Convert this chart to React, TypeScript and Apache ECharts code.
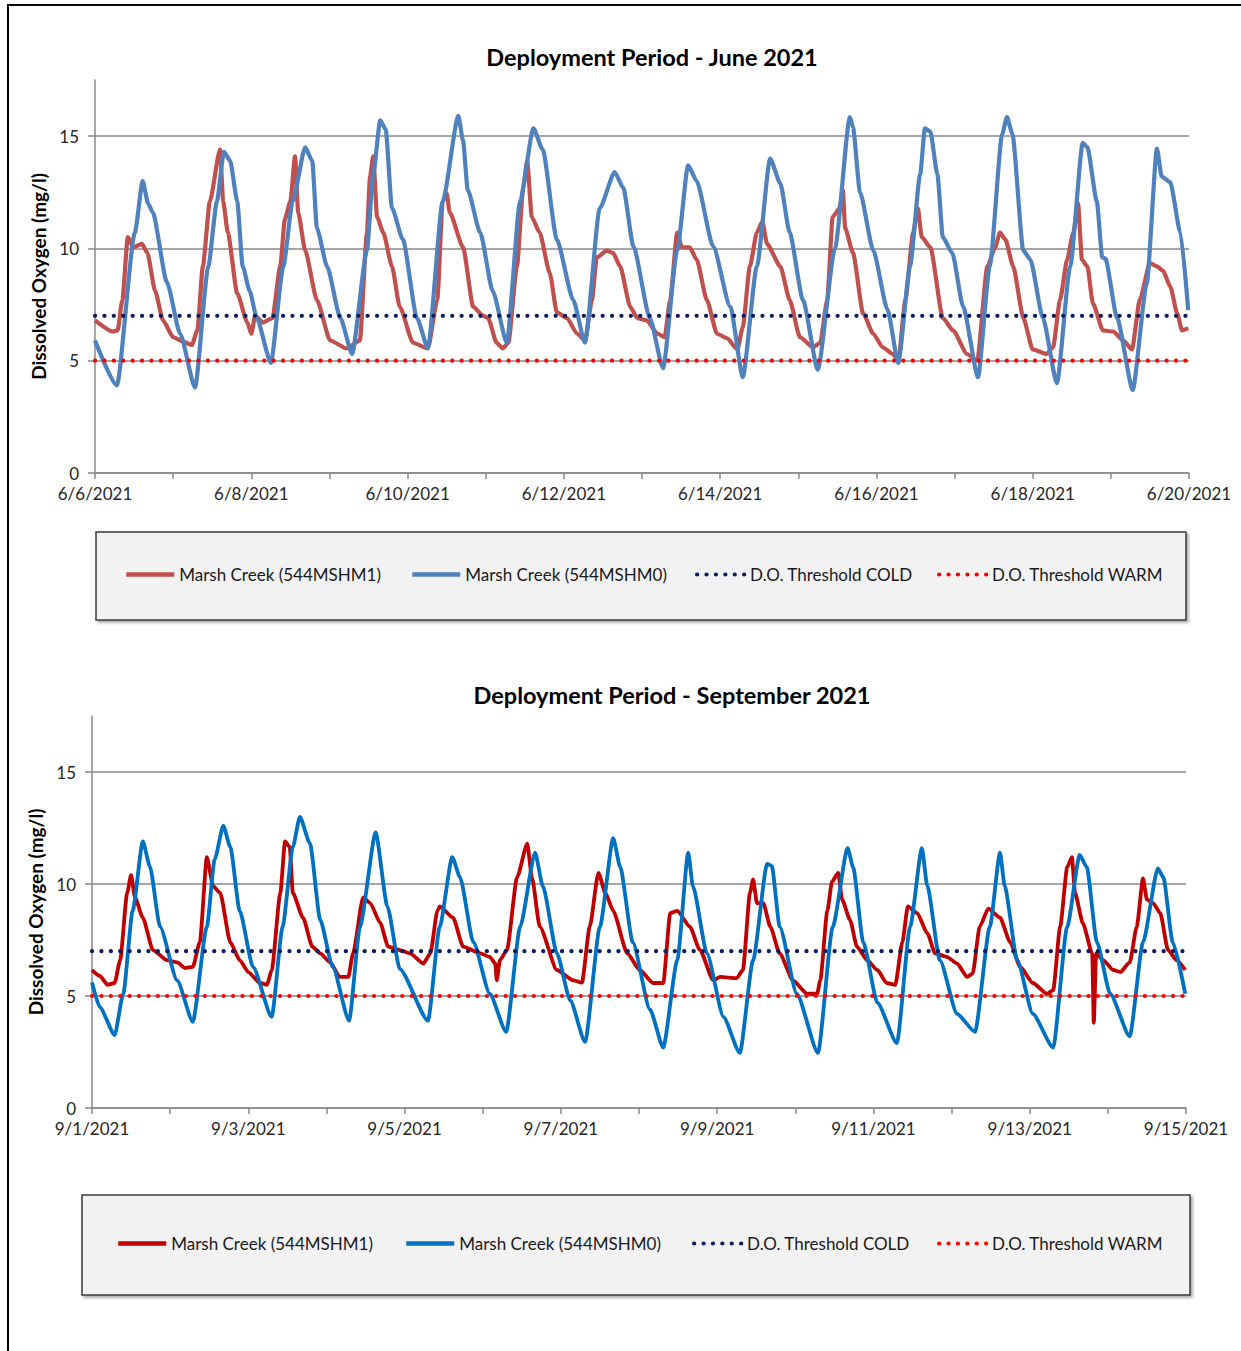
import React, { useEffect, useRef } from 'react';
import * as echarts from 'echarts';

const juneTicks = ['6/6/2021', '6/8/2021', '6/10/2021', '6/12/2021', '6/14/2021', '6/16/2021', '6/18/2021', '6/20/2021'];
const sepTicks = ['9/1/2021', '9/3/2021', '9/5/2021', '9/7/2021', '9/9/2021', '9/11/2021', '9/13/2021', '9/15/2021'];
const seriesNames = ['Marsh Creek (544MSHM1)', 'Marsh Creek (544MSHM0)', 'D.O. Threshold COLD', 'D.O. Threshold WARM'];
const coldThreshold = 7;
const warmThreshold = 5;

// [day offset from period start, dissolved oxygen mg/l]
const juneM1: [number, number][] = [
  [0.00, 6.8], [0.23, 6.3], [0.29, 6.35], [0.35, 7.7], [0.42, 10.5], [0.49, 10.05], [0.60, 10.2], [0.67, 9.8], [0.77, 8.1], [0.87, 6.8],
  [1.00, 6.05], [1.13, 5.85], [1.24, 5.7], [1.31, 6.35], [1.38, 9.2], [1.47, 12.1], [1.60, 14.4], [1.64, 12.1], [1.70, 10.7], [1.82, 8.0],
  [1.95, 6.7], [2.00, 6.2], [2.05, 7.0], [2.15, 6.7], [2.27, 6.9], [2.37, 9.2], [2.43, 11.3], [2.50, 12.1], [2.56, 14.1], [2.60, 11.6],
  [2.69, 9.9], [2.84, 7.7], [3.01, 5.9], [3.22, 5.55], [3.39, 5.9], [3.48, 10.7], [3.52, 13.2], [3.56, 14.1], [3.61, 11.4], [3.69, 10.7],
  [3.80, 9.2], [3.90, 7.4], [4.07, 5.8], [4.26, 5.55], [4.38, 7.7], [4.45, 12.1], [4.50, 12.45], [4.54, 11.6], [4.71, 10.05], [4.84, 7.4],
  [4.97, 7.0], [5.03, 6.9], [5.14, 5.8], [5.22, 5.55], [5.29, 5.8], [5.40, 9.2], [5.48, 12.7], [5.53, 13.9], [5.59, 11.4], [5.69, 10.7],
  [5.82, 8.9], [5.91, 7.15], [6.04, 6.9], [6.17, 6.2], [6.27, 5.9], [6.36, 7.7], [6.42, 9.6], [6.55, 9.9], [6.63, 9.8], [6.72, 9.2],
  [6.85, 7.4], [6.94, 6.9], [7.06, 6.8], [7.20, 6.2], [7.29, 6.05], [7.36, 7.7], [7.45, 10.7], [7.51, 10.05], [7.61, 10.05], [7.70, 9.5],
  [7.83, 7.7], [7.96, 6.2], [8.09, 6.0], [8.22, 5.5], [8.29, 6.5], [8.38, 9.2], [8.47, 10.7], [8.54, 11.2], [8.60, 10.2], [8.77, 9.2],
  [8.89, 7.7], [9.02, 6.05], [9.19, 5.6], [9.28, 5.8], [9.37, 7.7], [9.44, 11.4], [9.53, 11.8], [9.57, 12.6], [9.60, 10.9], [9.70, 9.8],
  [9.83, 7.1], [9.96, 6.2], [10.08, 5.6], [10.21, 5.3], [10.28, 5.0], [10.37, 7.7], [10.47, 10.7], [10.53, 11.8], [10.58, 10.5], [10.69, 10.05],
  [10.85, 6.9], [10.98, 6.35], [11.16, 5.3], [11.29, 5.0], [11.42, 9.2], [11.52, 10.05], [11.58, 10.7], [11.65, 10.4], [11.75, 9.2], [11.88, 6.9],
  [12.00, 5.5], [12.18, 5.3], [12.26, 5.6], [12.35, 7.7], [12.44, 9.5], [12.52, 10.7], [12.58, 12.0], [12.63, 9.5], [12.70, 9.2], [12.77, 7.55],
  [12.90, 6.35], [13.03, 6.3], [13.16, 5.9], [13.27, 5.5], [13.37, 7.7], [13.50, 9.35], [13.59, 9.2], [13.67, 9.0], [13.76, 8.3], [13.85, 7.1],
  [13.91, 6.35], [13.99, 6.45],
];

const juneM0: [number, number][] = [
  [0.00, 5.9], [0.28, 3.9], [0.51, 10.7], [0.61, 13.0], [0.68, 12.0], [0.74, 11.6], [0.92, 8.5], [1.09, 6.2], [1.28, 3.8], [1.45, 9.2],
  [1.56, 12.1], [1.65, 14.3], [1.73, 13.9], [1.82, 12.1], [1.89, 9.2], [1.98, 8.1], [2.07, 6.9], [2.25, 4.9], [2.41, 9.2], [2.53, 12.1],
  [2.69, 14.5], [2.78, 13.9], [2.84, 10.9], [2.97, 9.2], [3.14, 6.9], [3.29, 5.3], [3.48, 9.9], [3.56, 13.3], [3.65, 15.7], [3.72, 15.3],
  [3.80, 11.8], [3.94, 10.4], [4.12, 6.9], [4.26, 5.56], [4.45, 12.1], [4.65, 15.9], [4.71, 14.8], [4.77, 12.6], [4.93, 10.7], [5.09, 8.1],
  [5.27, 5.8], [5.44, 12.1], [5.61, 15.35], [5.73, 14.4], [5.91, 10.4], [6.12, 7.7], [6.27, 5.8], [6.46, 11.8], [6.65, 13.4], [6.76, 12.7],
  [6.89, 10.1], [7.10, 6.9], [7.27, 4.67], [7.45, 9.9], [7.59, 13.7], [7.70, 13.0], [7.91, 10.1], [8.13, 7.4], [8.29, 4.27], [8.47, 9.2],
  [8.64, 14.0], [8.77, 12.9], [8.89, 10.7], [9.06, 7.7], [9.25, 4.6], [9.47, 10.0], [9.66, 15.85], [9.70, 15.4], [9.79, 12.5], [9.96, 9.9],
  [10.14, 7.3], [10.28, 4.9], [10.43, 9.2], [10.56, 13.3], [10.62, 15.35], [10.69, 15.2], [10.78, 13.3], [10.85, 10.5], [10.97, 9.8], [11.11, 7.4],
  [11.30, 4.27], [11.45, 9.2], [11.61, 15.1], [11.67, 15.85], [11.74, 15.1], [11.88, 9.9], [11.97, 9.5], [12.13, 6.9], [12.31, 4.0], [12.48, 9.2],
  [12.64, 14.7], [12.70, 14.5], [12.82, 12.1], [12.89, 9.6], [12.93, 9.55], [13.08, 6.9], [13.28, 3.7], [13.46, 8.45], [13.59, 14.45], [13.65, 13.2],
  [13.76, 12.95], [13.89, 10.7], [13.99, 7.25],
];

const sepM1: [number, number][] = [
  [0.00, 6.16], [0.10, 5.9], [0.20, 5.5], [0.29, 5.58], [0.36, 6.6], [0.45, 9.6], [0.50, 10.4], [0.55, 9.4], [0.65, 8.5], [0.78, 7.05],
  [0.96, 6.6], [1.09, 6.5], [1.19, 6.25], [1.29, 6.3], [1.38, 7.4], [1.47, 11.2], [1.55, 9.9], [1.64, 9.6], [1.77, 7.4], [1.89, 6.6],
  [2.00, 6.07], [2.15, 5.58], [2.24, 5.5], [2.30, 6.16], [2.41, 9.6], [2.47, 11.9], [2.53, 11.65], [2.57, 9.6], [2.70, 8.5], [2.82, 7.2],
  [2.92, 6.9], [3.05, 6.5], [3.17, 5.85], [3.28, 5.85], [3.34, 6.9], [3.47, 9.4], [3.56, 9.15], [3.69, 8.25], [3.79, 7.2], [3.94, 7.05],
  [4.07, 6.9], [4.24, 6.45], [4.33, 6.9], [4.42, 8.8], [4.45, 9.0], [4.62, 8.5], [4.75, 7.2], [4.97, 6.9], [5.09, 6.75], [5.16, 6.45],
  [5.18, 5.7], [5.22, 6.6], [5.31, 7.05], [5.44, 10.3], [5.57, 11.8], [5.63, 10.3], [5.73, 8.1], [5.95, 6.16], [6.16, 5.7], [6.27, 5.6],
  [6.37, 8.1], [6.48, 10.5], [6.57, 9.6], [6.67, 8.8], [6.85, 6.9], [7.01, 6.16], [7.18, 5.58], [7.31, 5.58], [7.40, 8.7], [7.49, 8.8],
  [7.65, 8.1], [7.78, 7.05], [7.95, 5.7], [8.04, 5.85], [8.25, 5.8], [8.33, 6.16], [8.42, 9.6], [8.46, 10.2], [8.51, 9.15], [8.59, 9.15],
  [8.68, 8.1], [8.80, 6.9], [8.97, 5.7], [9.15, 5.1], [9.28, 5.1], [9.32, 5.7], [9.41, 8.8], [9.47, 10.1], [9.55, 10.5], [9.60, 9.3],
  [9.70, 8.4], [9.79, 7.2], [9.92, 6.6], [10.05, 6.16], [10.17, 5.58], [10.28, 5.5], [10.37, 7.4], [10.44, 9.0], [10.56, 8.7], [10.69, 7.8],
  [10.79, 6.9], [10.94, 6.75], [11.07, 6.45], [11.20, 5.85], [11.27, 6.0], [11.36, 8.1], [11.47, 8.9], [11.62, 8.5], [11.75, 7.4], [11.88, 6.3],
  [12.04, 5.58], [12.22, 5.1], [12.30, 5.25], [12.39, 8.1], [12.48, 10.75], [12.54, 11.2], [12.58, 9.6], [12.68, 8.25], [12.80, 6.9], [12.82, 3.8],
  [12.85, 6.9], [12.94, 6.6], [13.07, 6.16], [13.16, 6.07], [13.28, 6.5], [13.37, 8.1], [13.45, 10.25], [13.50, 9.3], [13.58, 9.15], [13.67, 8.7],
  [13.77, 7.05], [13.88, 6.6], [13.99, 6.16],
];

const sepM0: [number, number][] = [
  [0.00, 5.6], [0.10, 4.5], [0.29, 3.26], [0.40, 5.1], [0.52, 8.8], [0.65, 11.9], [0.74, 10.8], [0.87, 8.1], [1.09, 5.7], [1.29, 3.85],
  [1.47, 8.1], [1.57, 11.1], [1.68, 12.6], [1.77, 11.65], [1.89, 8.8], [2.06, 6.3], [2.30, 4.07], [2.44, 8.1], [2.57, 11.65], [2.66, 13.0],
  [2.79, 11.8], [2.92, 8.4], [3.08, 6.3], [3.29, 3.9], [3.43, 8.1], [3.63, 12.3], [3.78, 9.0], [3.94, 6.2], [4.30, 3.9], [4.45, 8.1],
  [4.61, 11.2], [4.71, 10.3], [4.88, 7.4], [5.09, 5.1], [5.30, 3.4], [5.48, 8.1], [5.67, 11.4], [5.77, 9.9], [5.95, 6.9], [6.12, 4.8],
  [6.31, 2.95], [6.50, 8.1], [6.67, 12.05], [6.76, 10.75], [6.92, 7.4], [7.14, 4.4], [7.31, 2.7], [7.49, 6.6], [7.63, 11.4], [7.69, 9.9],
  [7.87, 6.9], [8.08, 4.07], [8.29, 2.46], [8.46, 6.6], [8.64, 10.9], [8.70, 10.8], [8.80, 8.1], [9.02, 5.1], [9.29, 2.46], [9.48, 8.1],
  [9.67, 11.6], [9.74, 10.75], [9.87, 7.4], [10.05, 4.7], [10.30, 2.9], [10.47, 8.1], [10.62, 11.6], [10.69, 9.9], [10.85, 6.6], [11.07, 4.2],
  [11.30, 3.4], [11.49, 8.1], [11.62, 11.4], [11.68, 9.9], [11.84, 6.6], [12.04, 4.2], [12.30, 2.7], [12.48, 8.1], [12.64, 11.3], [12.73, 10.75],
  [12.86, 7.4], [13.03, 5.1], [13.28, 3.2], [13.45, 7.4], [13.64, 10.7], [13.71, 10.3], [13.83, 7.4], [13.99, 5.1],
];

const FONT = 'Lato';
const AXIS_GRAY = '#898989';

interface ChartCfg {
  title: string;
  titleX: number;
  titleY: number;
  gridLeft: number;
  gridTop: number;
  gridHeight: number;
  gridWidth: number;
  ticks: string[];
  m1: [number, number][];
  m0: [number, number][];
  m1Color: string;
  m0Color: string;
  lineWidth: number;
  box: { x: number; y: number; w: number; h: number };
  legendLefts: number[];
  legendCenterY: number;
  nameGap: number;
}

function buildOption(c: ChartCfg) {
  const dotted = { type: [0.1, 9.3] as any, cap: 'round' as const, width: 4.2 };
  const legends = seriesNames.map((n, i) => ({
    left: c.legendLefts[i],
    top: c.legendCenterY - 10,
    data: [n],
    padding: 0,
    itemWidth: 48,
    itemHeight: 12,
    itemGap: 0,
    selectedMode: false,
    itemStyle: { color: 'rgba(0,0,0,0)', opacity: 0, borderWidth: 0 },
    lineStyle: { width: i < 2 ? 4.5 : 4.2 },
    textStyle: { fontFamily: FONT, fontSize: 17, color: '#1a1a1a' },
    z: 10,
  }));
  return {
    animation: false,
    textStyle: { fontFamily: FONT },
    graphic: [
      {
        type: 'rect',
        z: 1,
        shape: { x: c.box.x, y: c.box.y, width: c.box.w, height: c.box.h },
        style: {
          fill: '#f2f2f2',
          stroke: '#3a3a3a',
          lineWidth: 1.5,
          shadowBlur: 3,
          shadowOffsetX: 2,
          shadowOffsetY: 2,
          shadowColor: 'rgba(0,0,0,0.35)',
        },
      },
      {
        type: 'text',
        z: 10,
        x: c.titleX,
        y: c.titleY,
        style: {
          text: c.title,
          fontFamily: FONT,
          fontSize: 23.5,
          fontWeight: 'bold',
          fill: '#000',
          align: 'center',
          verticalAlign: 'middle',
          textAlign: 'center',
          textVerticalAlign: 'middle',
        },
      },
    ],
    grid: { left: c.gridLeft, top: c.gridTop, width: c.gridWidth, height: c.gridHeight, containLabel: false },
    xAxis: {
      type: 'value',
      min: 0,
      max: 14,
      interval: 1,
      axisLine: { show: true, lineStyle: { color: AXIS_GRAY, width: 1.5 } },
      axisTick: { show: true, length: 6, lineStyle: { color: AXIS_GRAY, width: 1.5 } },
      axisLabel: {
        fontFamily: FONT,
        fontSize: 17,
        color: '#262626',
        margin: 12,
        showMinLabel: true,
        showMaxLabel: true,
        formatter: (v: number) => {
          const r = Math.round(v);
          return r % 2 === 0 ? c.ticks[r / 2] : '';
        },
      },
      splitLine: { show: false },
    },
    yAxis: {
      type: 'value',
      min: 0,
      max: 17.5,
      interval: 5,
      name: 'Dissolved Oxygen (mg/l)',
      nameLocation: 'middle',
      nameGap: c.nameGap,
      nameRotate: 90,
      nameTextStyle: { fontFamily: FONT, fontSize: 19, fontWeight: 'bold', color: '#000' },
      axisLine: { show: true, lineStyle: { color: AXIS_GRAY, width: 1.5 } },
      axisTick: { show: true, length: 7, customValues: [0, 5, 10, 15], lineStyle: { color: AXIS_GRAY, width: 1.5 } },
      axisLabel: {
        customValues: [0, 5, 10, 15],
        fontFamily: FONT,
        fontSize: 17,
        color: '#262626',
        margin: 16,
        formatter: (v: number) => (v > 16 ? '' : String(v)),
      },
      splitLine: { show: true, lineStyle: { color: AXIS_GRAY, width: 1.5 } },
    },
    legend: legends,
    series: [
      {
        name: seriesNames[0],
        type: 'line',
        data: c.m1,
        symbol: 'none',
        smooth: 0.2,
        smoothMonotone: 'x',
        z: 2,
        lineStyle: { color: c.m1Color, width: c.lineWidth, join: 'round' },
        itemStyle: { color: c.m1Color },
      },
      {
        name: seriesNames[1],
        type: 'line',
        data: c.m0,
        symbol: 'none',
        smooth: 0.2,
        smoothMonotone: 'x',
        z: 3,
        lineStyle: { color: c.m0Color, width: c.lineWidth, join: 'round' },
        itemStyle: { color: c.m0Color },
      },
      {
        name: seriesNames[2],
        type: 'line',
        data: [[0, coldThreshold], [14, coldThreshold]],
        symbol: 'none',
        z: 4,
        lineStyle: { color: '#0c1f5c', ...dotted },
        itemStyle: { color: '#0c1f5c' },
      },
      {
        name: seriesNames[3],
        type: 'line',
        data: [[0, warmThreshold], [14, warmThreshold]],
        symbol: 'none',
        z: 4,
        lineStyle: { color: '#ff0000', ...dotted },
        itemStyle: { color: '#ff0000' },
      },
    ],
  };
}

const juneCfg: ChartCfg = {
  title: 'Deployment Period - June 2021',
  titleX: 652,
  titleY: 57,
  gridLeft: 95,
  gridTop: 80,
  gridHeight: 393,
  gridWidth: 1094,
  ticks: juneTicks,
  m1: juneM1,
  m0: juneM0,
  m1Color: '#C0504D',
  m0Color: '#4F81BD',
  lineWidth: 4.2,
  box: { x: 96, y: 532, w: 1090, h: 88 },
  legendLefts: [124, 410, 695, 937],
  legendCenterY: 576,
  nameGap: 45,
};

const sepCfg: ChartCfg = {
  title: 'Deployment Period - September 2021',
  titleX: 672,
  titleY: 55,
  gridLeft: 92,
  gridTop: 76,
  gridHeight: 392,
  gridWidth: 1094,
  ticks: sepTicks,
  m1: sepM1,
  m0: sepM0,
  m1Color: '#C00000',
  m0Color: '#0070C0',
  lineWidth: 3.8,
  box: { x: 82, y: 555, w: 1108, h: 100 },
  legendLefts: [116, 404, 692, 937],
  legendCenterY: 605,
  nameGap: 46,
};

export default function App() {
  const topRef = useRef<HTMLDivElement>(null);
  const botRef = useRef<HTMLDivElement>(null);

  useEffect(() => {
    const top = echarts.init(topRef.current!, undefined, { renderer: 'svg' });
    const bot = echarts.init(botRef.current!, undefined, { renderer: 'svg' });
    top.setOption(buildOption(juneCfg) as any);
    bot.setOption(buildOption(sepCfg) as any);
    return () => {
      top.dispose();
      bot.dispose();
    };
  }, []);

  return (
    <div style={{ position: 'absolute', left: 0, top: 0, width: 1241, height: 1351, overflow: 'hidden', background: '#fff' }}>
      <div ref={topRef} style={{ position: 'absolute', left: 0, top: 0, width: 1241, height: 640 }} />
      <div ref={botRef} style={{ position: 'absolute', left: 0, top: 640, width: 1241, height: 711 }} />
      <div
        style={{
          position: 'absolute',
          left: 7,
          top: 4,
          width: 1240,
          height: 1352,
          border: '2px solid #000',
          boxSizing: 'border-box',
          pointerEvents: 'none',
        }}
      />
    </div>
  );
}
